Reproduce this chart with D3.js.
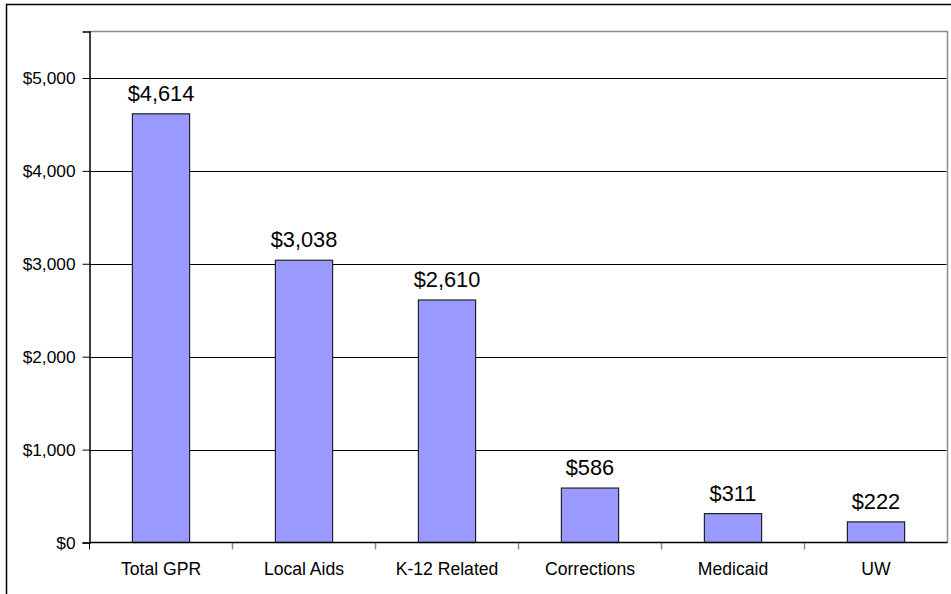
<!DOCTYPE html>
<html><head><meta charset="utf-8">
<script src="https://cdn.jsdelivr.net/npm/d3@7"></script>
<style>body{margin:0;background:#fff}svg{display:block}text{font-family:"Liberation Sans",Arial,sans-serif;fill:#000}</style>
</head><body>
<script>
const categories = ["Total GPR","Local Aids","K-12 Related","Corrections","Medicaid","UW"];
const values = [4614,3038,2610,586,311,222];
const yTicks = [0,1000,2000,3000,4000,5000];

const W=951,H=594;
const svg=d3.select("body").append("svg").attr("width",W).attr("height",H);
svg.append("rect").attr("x",6.5).attr("y",4.5).attr("width",950).attr("height",600)
  .attr("fill","none").attr("stroke","#000").attr("stroke-width",1.5);

const L=89.5,R=947.5,T=31.5,B=542.5;
const x=d3.scaleBand().domain(categories).range([L,R]).paddingInner(0.6).paddingOuter(0.3);
const y=d3.scaleLinear().domain([0,5500]).range([B,T]);

// plot border (top/right grey)
svg.append("path").attr("d",`M${L},${T}H${R}V${B}`).attr("fill","none").attr("stroke","#8c8c8c").attr("stroke-width",1.5);

// gridlines
svg.append("g").selectAll("line").data(yTicks.filter(d=>d>0)).join("line")
  .attr("x1",L).attr("x2",R-1).attr("y1",d=>Math.round(y(d))+0.5).attr("y2",d=>Math.round(y(d))+0.5)
  .attr("stroke","#000").attr("stroke-width",1);

// y axis
const yAxis=d3.axisLeft(y).tickValues(yTicks).tickSize(7).tickPadding(7).tickFormat(d=>"$"+d3.format(",")(d));
const gy=svg.append("g").attr("transform",`translate(${L},0)`).call(yAxis);
gy.select(".domain").attr("stroke","#000").attr("stroke-width",1.5);
gy.selectAll(".tick line").attr("stroke","#000");
gy.selectAll(".tick text").style("font-size","17.3px").attr("fill","#000");

// bars
svg.append("g").selectAll("rect").data(values).join("rect")
  .attr("x",(d,i)=>x(categories[i])).attr("width",x.bandwidth())
  .attr("y",d=>y(d)).attr("height",d=>B-y(d))
  .attr("fill","#9999FF").attr("stroke","#222").attr("stroke-width",1.2);

// value labels
svg.append("g").selectAll("text").data(values).join("text")
  .attr("x",(d,i)=>x(categories[i])+x.bandwidth()/2).attr("y",d=>y(d)-13)
  .attr("text-anchor","middle").style("font-size","21.8px")
  .text(d=>"$"+d3.format(",")(d));

// x axis
const step=(R-L)/categories.length;
svg.append("g").selectAll("line").data(d3.range(1,categories.length)).join("line")
  .attr("x1",i=>L+i*step).attr("x2",i=>L+i*step).attr("y1",B).attr("y2",B+7)
  .attr("stroke","#8c8c8c").attr("stroke-width",1.5);
svg.append("line").attr("x1",L).attr("x2",R).attr("y1",B).attr("y2",B).attr("stroke","#000").attr("stroke-width",1.5);
svg.append("line").attr("x1",L).attr("x2",L).attr("y1",B).attr("y2",B+7).attr("stroke","#000");
svg.append("g").selectAll("text").data(categories).join("text")
  .attr("x",d=>x(d)+x.bandwidth()/2).attr("y",575)
  .attr("text-anchor","middle").style("font-size","17.6px").text(d=>d);
</script>
</body></html>
